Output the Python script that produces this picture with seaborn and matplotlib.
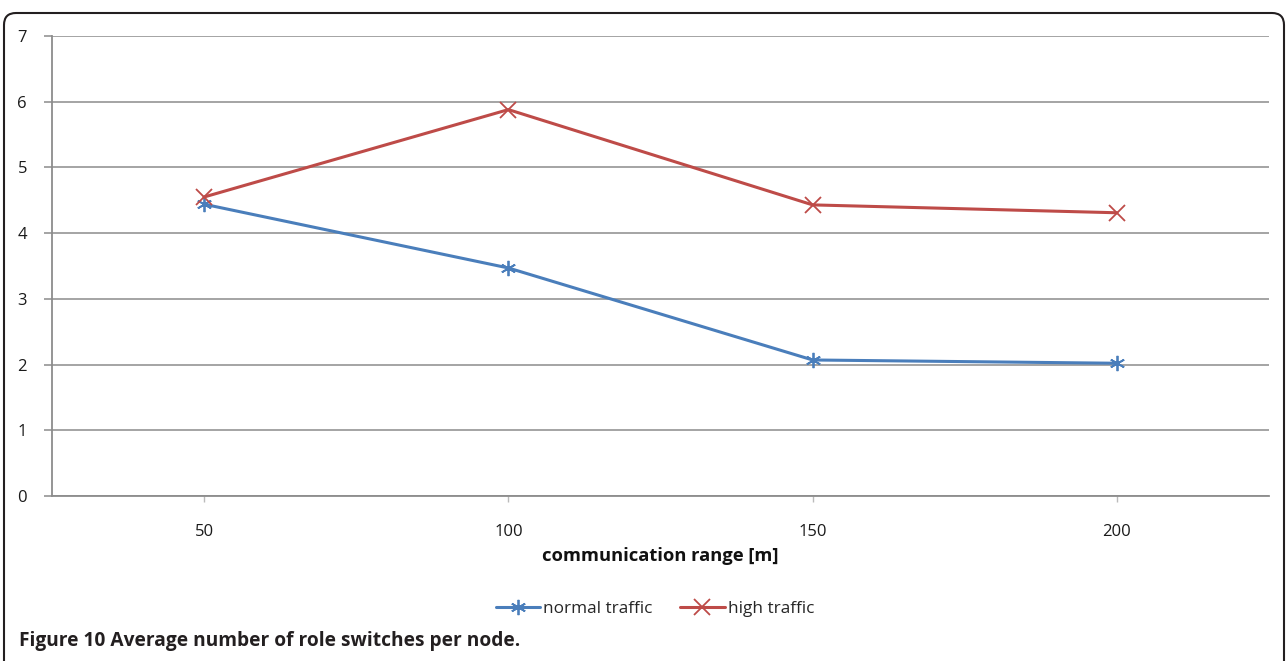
import matplotlib
matplotlib.use("Agg")
import matplotlib.pyplot as plt
from matplotlib.patches import FancyBboxPatch
from matplotlib.lines import Line2D
from matplotlib.transforms import IdentityTransform
import seaborn as sns
import pandas as pd

# Data
ranges = ["50", "100", "150", "200"]
normal_traffic = [4.44, 3.47, 2.07, 2.02]
high_traffic = [4.55, 5.88, 4.43, 4.31]
series_names = ["normal traffic", "high traffic"]
y_ticks = [0, 1, 2, 3, 4, 5, 6, 7]

df = pd.DataFrame({
    "range": ranges * 2,
    "value": normal_traffic + high_traffic,
    "series": [series_names[0]] * len(ranges) + [series_names[1]] * len(ranges),
})

sns.set_theme(style="white")
plt.rcParams["font.family"] = ["Open Sans", "DejaVu Sans"]

W, H = 1287, 661
fig = plt.figure(figsize=(W / 100, H / 100), dpi=100)
ax = fig.add_axes([52 / W, 1 - 496 / H, (1269 - 52) / W, (496 - 36) / H])

colors = {"normal traffic": "#4A7EBB", "high traffic": "#BE4B48"}
markers = {"normal traffic": (6, 2, 0), "high traffic": "x"}

sns.lineplot(data=df, x="range", y="value", hue="series", style="series",
             palette=colors, markers=markers, dashes=False, sort=False,
             linewidth=2.2, markersize=11, markeredgewidth=1.3, ax=ax,
             legend=False, zorder=3)
# marker edges in the line colour
for line in ax.lines:
    line.set_markeredgecolor(line.get_color())

ax.set_xlim(-0.5, 3.5)
ax.set_ylim(0, 7)
ax.set_yticks(y_ticks)
ax.grid(axis="y", color="#8c8c8c", linewidth=1.1)
ax.set_axisbelow(True)
for s in ["top", "right"]:
    ax.spines[s].set_visible(False)
for s in ["left", "bottom"]:
    ax.spines[s].set_color("#8c8c8c")
    ax.spines[s].set_linewidth(1.3)
ax.tick_params(axis="y", length=6, width=1.1, color="#8c8c8c", pad=12,
               labelsize=12, left=True, labelcolor="#1a1a1a")
ax.tick_params(axis="x", length=4, width=1, color="#bbbbbb", pad=16,
               labelsize=12, bottom=True, labelcolor="#1a1a1a")
ax.set_ylabel("")
ax.set_xlabel("communication range [m]", fontsize=13.2, fontweight="bold",
              labelpad=5.5, color="#111111")

# Legend below the plot
handles = [Line2D([], [], color=colors[n], marker=markers[n], lw=2.2,
                  markersize=11, markeredgewidth=1.3) for n in series_names]
fig.legend(handles, series_names, loc="center", ncol=2, frameon=False,
           bbox_to_anchor=(655 / W, 1 - 609 / H), fontsize=12.3,
           handlelength=2.6, handletextpad=0.2, columnspacing=1.6)

# Caption
fig.text(19 / W, 1 - 641 / H,
         "Figure 10 Average number of role switches per node.",
         fontsize=13.8, fontweight="bold", color="#231f20",
         va="center", ha="left")

# Rounded frame around the figure
frame = FancyBboxPatch((4, -40), 1280, H - 13 + 40,
                       boxstyle="round,pad=0,rounding_size=12",
                       transform=IdentityTransform(), fill=False,
                       edgecolor="#231f20", linewidth=1.5)
fig.patches.append(frame)

fig.savefig("out.png", dpi=100)
